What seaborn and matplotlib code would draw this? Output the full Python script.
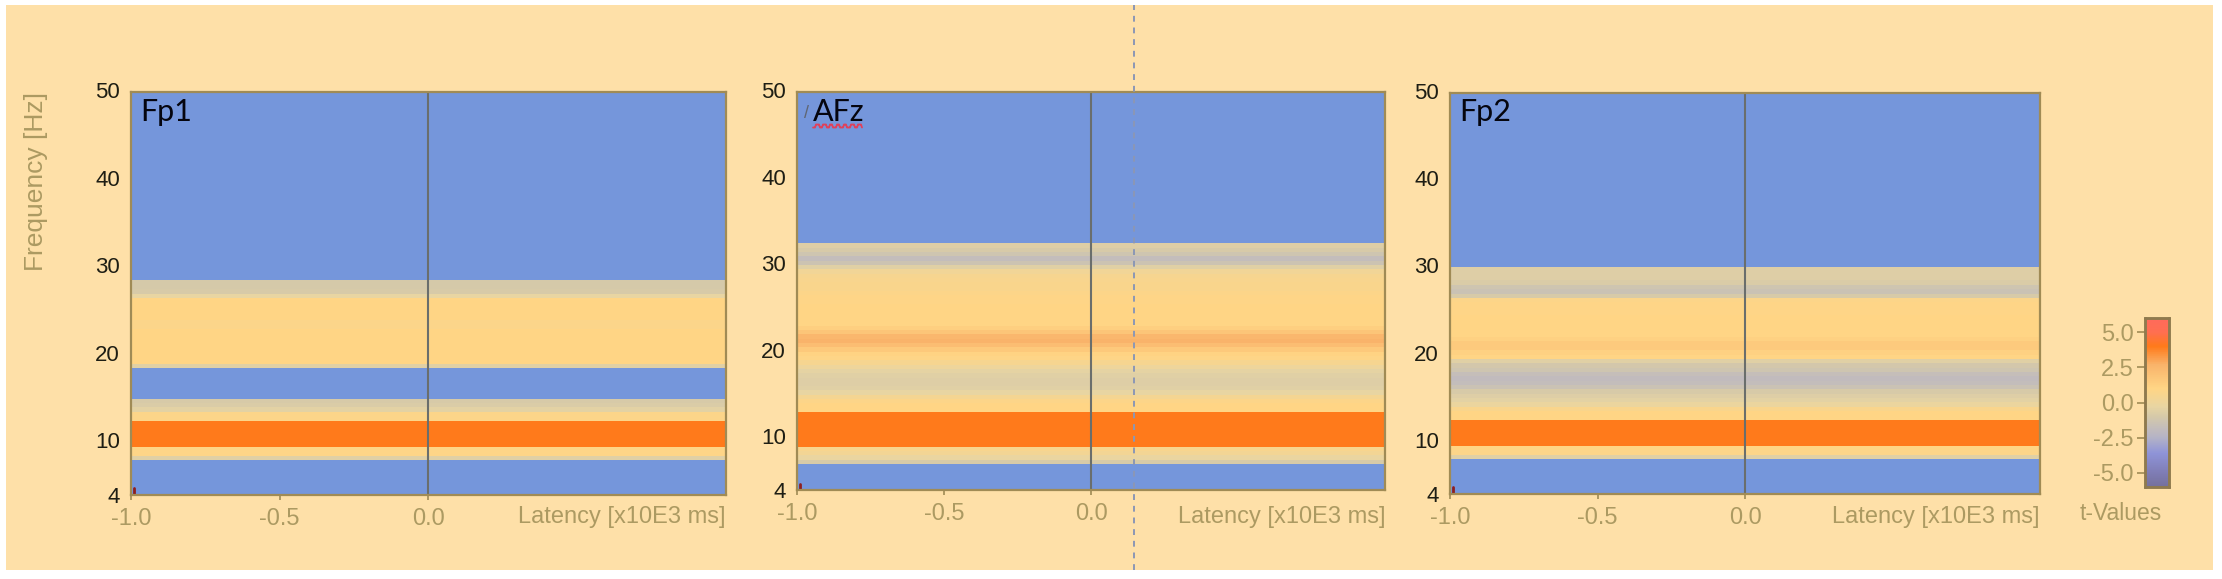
import numpy as np
import pandas as pd
import matplotlib
matplotlib.use("Agg")
import matplotlib.pyplot as plt
import seaborn as sns
from matplotlib.colors import LinearSegmentedColormap
from matplotlib.lines import Line2D
from matplotlib.patches import Rectangle
from matplotlib.transforms import ScaledTranslation

nan = float("nan")

W, H = 2222, 579

# t-values per 0.5 Hz bin, from 4 Hz upwards (nan = not significant, shown blue)
fp1_values = (
    [nan] * 8 + [-0.6, 0.9, 0.9] + [4.0] * 6 + [0.8, 0.8, -0.5, -0.8, -0.9]
    + [nan] * 7 + [-0.6] + [1.0] * 8 + [0.75, 0.75] + [1.0] * 5
    + [-0.3, -0.9, -1.0, -1.0] + [nan] * 43
)
afz_values = (
    [nan] * 6 + [-0.9, -0.2, 0.3, 0.6] + [4.0] * 8 + [1.0, 1.0, 0.8, 0.4]
    + [-0.3, -0.6, -0.7, -0.7, -0.6, -0.4] + [0.0, 0.5, 0.9, 1.1]
    + [1.6, 2.2, 2.7, 2.5, 1.8, 1.3] + [1.0, 1.0, 1.0, 1.0, 1.0, 0.9, 0.9, 0.8]
    + [0.7, 0.7, 0.6, 0.5, 0.2] + [-0.6, -1.4, -1.8, -1.3, -0.9, -0.7] + [nan] * 35
)
fp2_values = (
    [nan] * 8 + [-0.6, 0.8, 1.0] + [4.0] * 6 + [1.0, 1.0, 0.7]
    + [-0.1, -0.5, -0.7, -0.9, -1.5, -1.8, -1.9, -1.7, -1.3, -1.1, -0.6]
    + [1.0, 1.2, 1.5, 1.5, 1.2] + [1.0, 1.0, 1.0, 1.0, 1.0, 0.9, 0.9, 0.9, 0.8]
    + [-0.9, -1.5, -1.3, -0.8, -0.7, -0.7, -0.7] + [nan] * 40
)

channels = ["Fp1", "AFz", "Fp2"]
freq_bins = np.arange(4, 50, 0.5)
latency_bins = [-1.0, -0.5, 0.0, 0.5]
freq_ticks = [50, 40, 30, 20, 10, 4]
latency_ticks = [-1.0, -0.5, 0.0]
cbar_ticks = [5.0, 2.5, 0.0, -2.5, -5.0]

# pixel boxes of the panels: left, right, top, bottom
boxes = [(131, 726, 92, 495), (797, 1385, 92, 490), (1450, 2040, 93, 494)]
name_x = [140, 813, 1459]

BG = "#FEE0A8"
BLUE = "#7596DB"
TAN = "#AC9A62"
EDGE = "#A08B55"
DARK = "#1E1E14"

sns.set_theme(style="white")
plt.rcParams["font.family"] = ["Liberation Sans", "DejaVu Sans"]

stops = [(-6, "#74709C"), (-5, "#7F7DB5"), (-3.6, "#8F94D8"), (-2.5, "#B4B3C6"),
         (-1.8, "#C3BDBB"), (-1, "#D5C9A9"), (-0.3, "#E8D5A2"), (1, "#FFD585"),
         (2.7, "#F9B36A"), (4, "#FF7A1A"), (5, "#FF6F50"), (6, "#FF6A5C")]
cmap = LinearSegmentedColormap.from_list(
    "tvalues", [((v + 6) / 12, c) for v, c in stops])


def px_axes(fig, left, right, top, bottom):
    return fig.add_axes([left / W, 1 - bottom / H, (right - left) / W, (bottom - top) / H])


fig = plt.figure(figsize=(W / 100, H / 100), dpi=100, facecolor="white")
fig.add_artist(Rectangle((6 / W, 1 - 570 / H), 2207 / W, 565 / H, transform=fig.transFigure,
                         facecolor=BG, edgecolor="none", zorder=-10))

cax = px_axes(fig, 2145, 2169, 318, 487)
up_2px = ScaledTranslation(0, 2 / 100, fig.dpi_scale_trans)

for i, values in enumerate([fp1_values, afz_values, fp2_values]):
    ax = px_axes(fig, *boxes[i])
    ax.set_facecolor(BLUE)
    df = pd.DataFrame({lat: values for lat in latency_bins}, index=freq_bins).iloc[::-1]
    sns.heatmap(df, ax=ax, cmap=cmap, vmin=-6, vmax=6, xticklabels=False, yticklabels=False,
                cbar=i == 2, cbar_ax=cax if i == 2 else None, linewidths=0)
    ax.collections[0].set_edgecolor("face")

    # heatmap rows run top-down in bin units, columns are 0.5 wide in latency
    ax.set_yticks([(50 - f) / 0.5 for f in freq_ticks])
    ax.set_yticklabels([str(f) for f in freq_ticks], fontsize=16, color=DARK, fontweight="medium")
    ax.set_xticks([(t + 1) / 0.5 for t in latency_ticks])
    ax.set_xticklabels([f"{t:.1f}" for t in latency_ticks], fontsize=17, color=TAN)
    ax.tick_params(axis="y", length=0, pad=8)
    ax.tick_params(axis="x", length=3.5, width=1.2, color=EDGE, pad=6, bottom=True)
    ax.set_xlabel("")
    ax.set_ylabel("")
    for lab in ax.get_yticklabels()[:-1]:
        lab.set_transform(lab.get_transform() + up_2px)

    ax.axvline(2, color="#6A6E6C", lw=1.5)
    for s in ax.spines.values():
        s.set_visible(True)
        s.set_color(EDGE)
        s.set_linewidth(1.6)

    # tiny dark red corner mark
    ax.plot([0.02, 0.02], [90.5, 92], color="#8E1F1F", lw=2, clip_on=True)

    left, right, top, bottom = boxes[i]
    fig.text(right / W, 1 - 517 / H, "Latency [x10E3 ms]", ha="right", va="center",
             fontsize=17, color=TAN)
    fig.text(name_x[i] / W, 1 - 112 / H, channels[i], ha="left", va="center",
             fontsize=22, color="#05050F", family=["Lato", "DejaVu Sans"])

fig.text(36 / W, 1 - 182 / H, "Frequency [Hz]", rotation=90, ha="center", va="center",
         fontsize=19, color=TAN)

# spell-check squiggle under AFz and the stray slash before it
sq_x = np.arange(813, 863, 1.0)
sq_y = 126 + 1.5 * np.sign(np.sin(sq_x * 2 * np.pi / 7))
fig.add_artist(Line2D(sq_x / W, 1 - sq_y / H, color="#E0405A", lw=1.3))
fig.text(806 / W, 1 - 114 / H, "/", ha="center", va="center", fontsize=13, color="#5F6674")

# colorbar
cax.set_yticks(cbar_ticks)
cax.set_yticklabels([f"{t:.1f}" for t in cbar_ticks], fontsize=17, color=TAN)
cax.yaxis.set_ticks_position("left")
cax.tick_params(axis="y", length=6, width=1.2, color=EDGE, pad=2, left=True, right=False)
for s in cax.spines.values():
    s.set_visible(True)
    s.set_color("#8F7A4E")
    s.set_linewidth(1.8)
fig.text(2121 / W, 1 - 513 / H, "t-Values", ha="center", va="center", fontsize=16.5, color=TAN)

# dashed guide line running through the middle panel
fig.add_artist(Line2D([1134 / W, 1134 / W], [1 - 570 / H, 1 - 5 / H], color="#8B97B5",
                      lw=1.4, ls=(0, (3, 3)), zorder=20))

fig.savefig("out.png", dpi=100, facecolor="white")
